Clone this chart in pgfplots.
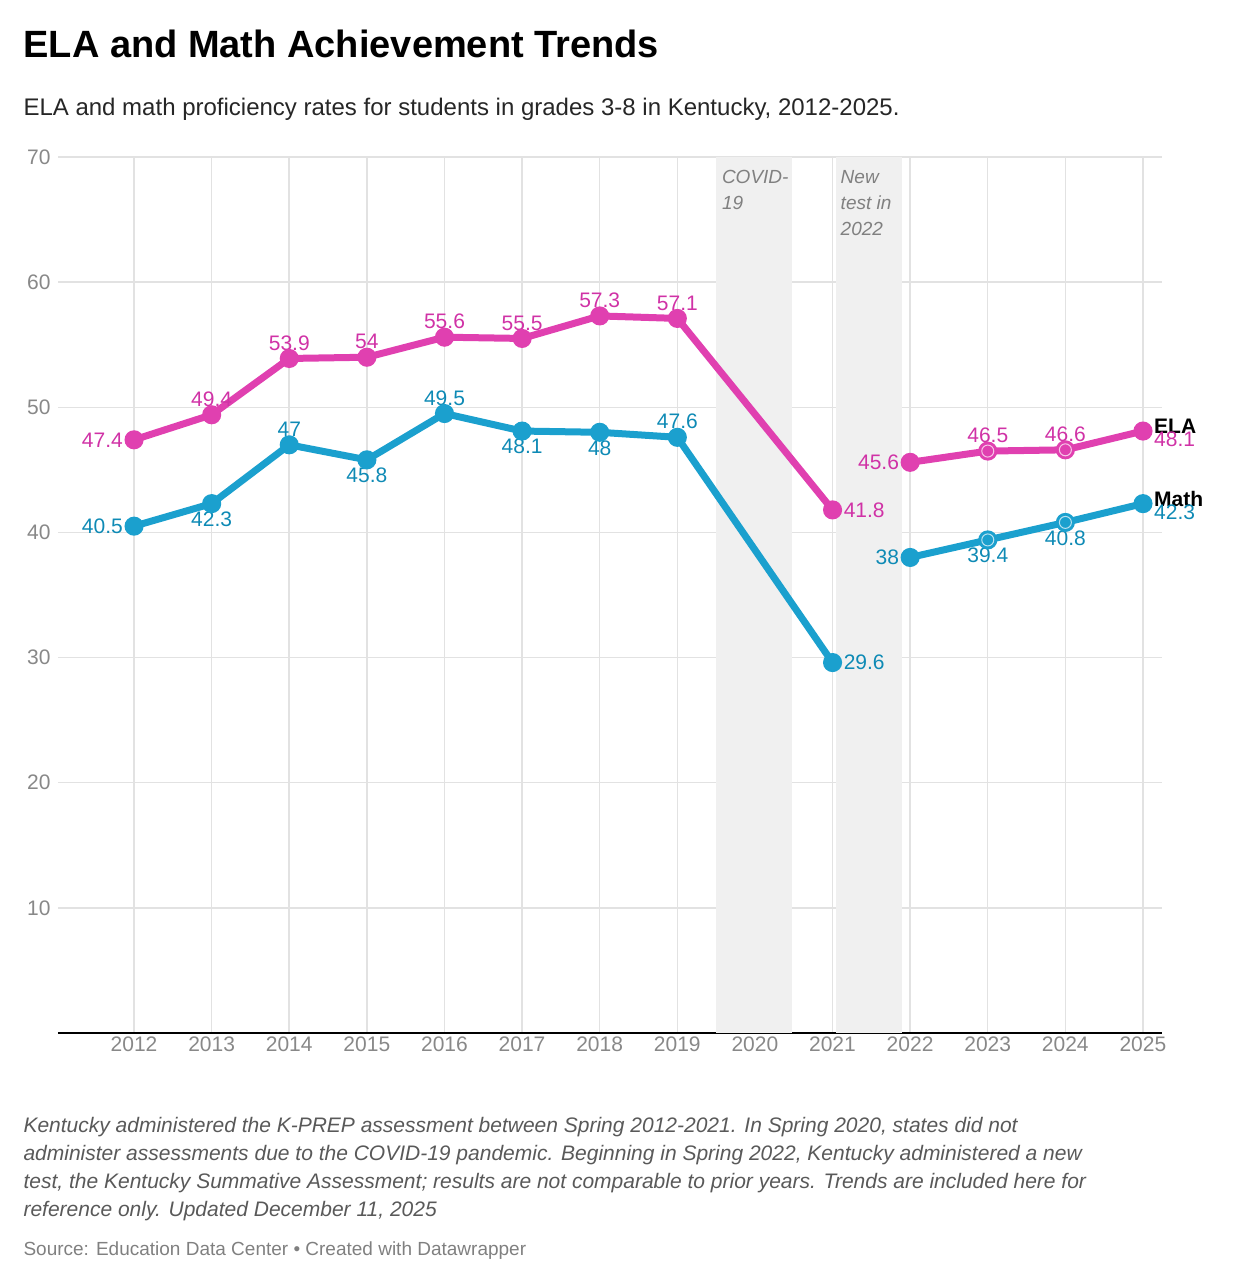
\documentclass[border=0pt]{standalone}
\usepackage{pgfplots}
\pgfplotsset{compat=1.18}
\usepackage{fontspec}
\setmainfont{Liberation Sans}
\definecolor{ela}{HTML}{E040B0}
\definecolor{elat}{HTML}{D032A6}
\definecolor{mth}{HTML}{1BA0CE}
\definecolor{mtht}{HTML}{0E8AB5}
\definecolor{gridc}{HTML}{E2E2E2}
\definecolor{tickc}{HTML}{888888}
\begin{document}
\begin{tikzpicture}[x=1pt,y=1pt]
\path (0,0) rectangle (1238,1282);
\node[anchor=base west,font=\fontsize{38}{44}\selectfont\bfseries] at (20,1224) {ELA and Math Achievement Trends};
\node[anchor=base west,font=\fontsize{24}{28}\selectfont,text=black!85] at (20,1166) {ELA and math proficiency rates for students in grades 3-8 in Kentucky, 2012-2025.};
\begin{axis}[at={(58pt,249pt)},anchor=south west,scale only axis,width=1104pt,height=876pt,
 xmin=2011.02,xmax=2025.245,ymin=0,ymax=70,
 axis x line*=bottom, axis y line*=left, y axis line style={draw=none},
 xtick={2012,...,2025}, ytick={10,20,...,70},
 xticklabel style={font=\fontsize{21}{24}\selectfont,text=tickc,/pgf/number format/1000 sep={}},
 yticklabel style={font=\fontsize{21}{24}\selectfont,text=tickc,xshift=-4pt},
 /pgf/number format/assume math mode=true,
 xmajorgrids, ymajorgrids, major grid style={gridc,line width=1.5pt},
 major tick length=0pt, x axis line style={black,line width=1.5pt},
 axis on top=false, clip=false]
\fill[black!6] (axis cs:2019.5,0) rectangle (axis cs:2020.48,70);
\fill[black!6] (axis cs:2021.05,0) rectangle (axis cs:2021.9,70);
\node[anchor=north west,align=left,font=\fontsize{19}{26}\selectfont\itshape,text=black!50] at (axis cs:2019.53,69.2) {COVID-\\19};
\node[anchor=north west,align=left,font=\fontsize{19}{26}\selectfont\itshape,text=black!50] at (axis cs:2021.06,69.2) {New\\test in\\2022};
\addplot[ela,line width=7pt,mark=*,mark size=6pt] coordinates {(2012,47.4)(2013,49.4)(2014,53.9)(2015,54)(2016,55.6)(2017,55.5)(2018,57.3)(2019,57.1)(2021,41.8)};
\addplot[ela,line width=7pt,mark=*,mark size=6pt] coordinates {(2022,45.6)(2023,46.5)(2024,46.6)(2025,48.1)};
\addplot[mth,line width=7pt,mark=*,mark size=6pt] coordinates {(2012,40.5)(2013,42.3)(2014,47)(2015,45.8)(2016,49.5)(2017,48.1)(2018,48)(2019,47.6)(2021,29.6)};
\addplot[mth,line width=7pt,mark=*,mark size=6pt] coordinates {(2022,38)(2023,39.4)(2024,40.8)(2025,42.3)};
\addplot[only marks,mark=*,mark size=6pt,mark options={fill=ela,draw=white!70!ela,line width=1pt}] coordinates {(2023,46.5)(2024,46.6)};
\addplot[only marks,mark=*,mark size=6pt,mark options={fill=mth,draw=white!70!mth,line width=1pt}] coordinates {(2023,39.4)(2024,40.8)};
\tikzset{lab/.style={font=\fontsize{21}{24}\selectfont,inner sep=3pt},
 up/.style={lab,anchor=south,yshift=5pt},dn/.style={lab,anchor=north,yshift=-5pt},
 lf/.style={lab,anchor=east,xshift=-8pt},rt/.style={lab,anchor=west,xshift=8pt}}
\node[up,text=elat] at (axis cs:2013,49.4) {49.4};
\node[up,text=elat] at (axis cs:2014,53.9) {53.9};
\node[up,text=elat] at (axis cs:2015,54) {54};
\node[up,text=elat] at (axis cs:2016,55.6) {55.6};
\node[up,text=elat] at (axis cs:2017,55.5) {55.5};
\node[up,text=elat] at (axis cs:2018,57.3) {57.3};
\node[up,text=elat] at (axis cs:2019,57.1) {57.1};
\node[up,text=elat] at (axis cs:2023,46.5) {46.5};
\node[up,text=elat] at (axis cs:2024,46.6) {46.6};
\node[lf,text=elat] at (axis cs:2012,47.4) {47.4};
\node[rt,text=elat] at (axis cs:2021,41.8) {41.8};
\node[lf,text=elat] at (axis cs:2022,45.6) {45.6};
\node[lab,anchor=south west,font=\fontsize{21}{24}\selectfont\bfseries,xshift=8pt,yshift=-6pt] at (axis cs:2025,48.1) {ELA};
\node[lab,text=elat,anchor=north west,xshift=8pt,yshift=2pt] at (axis cs:2025,48.1) {48.1};
\node[up,text=mtht] at (axis cs:2014,47) {47};
\node[up,text=mtht] at (axis cs:2016,49.5) {49.5};
\node[up,text=mtht] at (axis cs:2019,47.6) {47.6};
\node[dn,text=mtht] at (axis cs:2013,42.3) {42.3};
\node[dn,text=mtht] at (axis cs:2015,45.8) {45.8};
\node[dn,text=mtht] at (axis cs:2017,48.1) {48.1};
\node[dn,text=mtht] at (axis cs:2018,48) {48};
\node[dn,text=mtht] at (axis cs:2023,39.4) {39.4};
\node[dn,text=mtht] at (axis cs:2024,40.8) {40.8};
\node[lf,text=mtht] at (axis cs:2012,40.5) {40.5};
\node[rt,text=mtht] at (axis cs:2021,29.6) {29.6};
\node[lf,text=mtht] at (axis cs:2022,38) {38};
\node[lab,anchor=south west,font=\fontsize{21}{24}\selectfont\bfseries,xshift=8pt,yshift=-6pt] at (axis cs:2025,42.3) {Math};
\node[lab,text=mtht,anchor=north west,xshift=8pt,yshift=2pt] at (axis cs:2025,42.3) {42.3};
\end{axis}
\node[anchor=north west,align=left,font=\fontsize{21}{28}\selectfont\itshape,text=black!65] at (20,168) {Kentucky administered the K-PREP assessment between Spring 2012-2021. In Spring 2020, states did not\\administer assessments due to the COVID-19 pandemic. Beginning in Spring 2022, Kentucky administered a new\\test, the Kentucky Summative Assessment; results are not comparable to prior years. Trends are included here for\\reference only. Updated December 11, 2025};
\node[anchor=base west,font=\fontsize{19}{22}\selectfont,text=black!50] at (20,27) {Source: Education Data Center \textbullet\ Created with Datawrapper};
\end{tikzpicture}
\end{document}
